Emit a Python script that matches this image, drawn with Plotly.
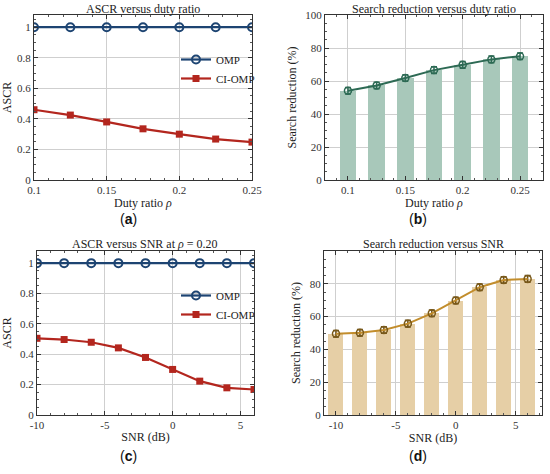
import plotly.graph_objects as go
from plotly.subplots import make_subplots

# data
duty = [0.1, 0.125, 0.15, 0.175, 0.2, 0.225, 0.25]
omp_duty = [1, 1, 1, 1, 1, 1, 1]
ciomp_duty = [0.46, 0.425, 0.38, 0.335, 0.30, 0.268, 0.248]
red_duty = [54.1, 57.3, 61.8, 66.6, 69.8, 73.1, 75.0]
red_duty_err = [2, 2, 2, 2, 2, 2, 2]

snr = [-10, -8, -6, -4, -2, 0, 2, 4, 6]
omp_snr = [1, 1, 1, 1, 1, 1, 1, 1, 1]
ciomp_snr = [0.505, 0.497, 0.479, 0.442, 0.379, 0.30, 0.223, 0.179, 0.168]
red_snr = [49.6, 50.2, 51.8, 55.7, 62.0, 69.8, 77.9, 82.3, 83.0]
red_snr_err = [2, 2, 2, 2, 2, 2, 2, 2, 2]

duty_ticks = [0.1, 0.15, 0.2, 0.25]
duty_labels = ["0.1", "0.15", "0.2", "0.25"]
snr_ticks = [-10, -5, 0, 5]
snr_labels = ["-10", "-5", "0", "5"]
ascr_ticks = [0, 0.2, 0.4, 0.6, 0.8, 1]
ascr_labels = ["0", "0.2", "0.4", "0.6", "0.8", "1"]

W, H = 550, 474
serif = "Liberation Serif, Times New Roman, serif"
blue = "#1d4472"
red = "#b3261e"
green = "#2d6a54"
green_bar = "#a8c8ba"
gold = "#c28d2c"
gold_bar = "#e6cfa6"


def px_x(a, b):
    return [a / W, b / W]


def px_y(top, bottom):
    return [1 - bottom / H, 1 - top / H]


fig = make_subplots(rows=2, cols=2)

# (a)
fig.add_trace(go.Scatter(x=duty, y=omp_duty, mode="lines+markers", name="OMP",
                         line=dict(color=blue, width=2.2),
                         marker=dict(symbol="circle-open", size=8, color=blue, line=dict(width=2)),
                         legend="legend"), row=1, col=1)
fig.add_trace(go.Scatter(x=duty, y=ciomp_duty, mode="lines+markers", name="CI-OMP",
                         line=dict(color=red, width=2.2),
                         marker=dict(symbol="square", size=7, color=red),
                         legend="legend"), row=1, col=1)

# (b)
fig.add_trace(go.Bar(x=duty, y=red_duty, width=0.0145, marker=dict(color=green_bar, line=dict(width=0)),
                     showlegend=False), row=1, col=2)
fig.add_trace(go.Scatter(x=duty, y=red_duty, mode="lines+markers", showlegend=False,
                         line=dict(color=green, width=2),
                         marker=dict(symbol="circle-open", size=7, color=green, line=dict(width=1.5)),
                         error_y=dict(type="data", array=red_duty_err, color=green, thickness=1.5, width=3)),
              row=1, col=2)

# (c)
fig.add_trace(go.Scatter(x=snr, y=omp_snr, mode="lines+markers", name="OMP",
                         line=dict(color=blue, width=2.2),
                         marker=dict(symbol="circle-open", size=8, color=blue, line=dict(width=2)),
                         legend="legend2"), row=2, col=1)
fig.add_trace(go.Scatter(x=snr, y=ciomp_snr, mode="lines+markers", name="CI-OMP",
                         line=dict(color=red, width=2.2),
                         marker=dict(symbol="square", size=7, color=red),
                         legend="legend2"), row=2, col=1)

# (d)
fig.add_trace(go.Bar(x=snr, y=red_snr, width=1.25, marker=dict(color=gold_bar, line=dict(width=0)),
                     showlegend=False), row=2, col=2)
fig.add_trace(go.Scatter(x=snr, y=red_snr, mode="lines+markers", showlegend=False,
                         line=dict(color=gold, width=2),
                         marker=dict(symbol="circle-open", size=7, color="#7a5a1a", line=dict(width=1.5)),
                         error_y=dict(type="data", array=red_snr_err, color="#6b4f18", thickness=1.5, width=3)),
              row=2, col=2)

axis_style = dict(showline=True, linecolor="#333", linewidth=1, mirror="ticks", ticks="inside",
                  ticklen=4, tickcolor="#333", showgrid=True, gridcolor="#cfcfcf", gridwidth=1,
                  zeroline=False, automargin=False, tickfont=dict(family=serif, size=11, color="#333"))
minor = dict(ticks="inside", ticklen=2, tickcolor="#555")
title_font = dict(family=serif, size=12, color="#222")

fig.update_layout(
    xaxis=dict(axis_style, domain=px_x(34, 252), range=[0.1, 0.25], tickvals=duty_ticks,
               ticktext=duty_labels, minor=dict(minor, dtick=0.01),
               title=dict(text="Duty ratio <i>ρ</i>", font=title_font, standoff=2)),
    yaxis=dict(axis_style, domain=px_y(15, 180), range=[0, 1.08], tickvals=ascr_ticks,
               ticktext=ascr_labels, minor=dict(minor, dtick=0.05),
               title=dict(text="ASCR", font=title_font, standoff=6)),
    xaxis2=dict(axis_style, domain=px_x(325, 543), range=[0.08, 0.27], tickvals=duty_ticks,
                ticktext=duty_labels, minor=dict(minor, dtick=0.01),
                title=dict(text="Duty ratio <i>ρ</i>", font=title_font, standoff=2)),
    yaxis2=dict(axis_style, domain=px_y(15, 180), range=[0, 100], tickvals=[0, 20, 40, 60, 80, 100],
                minor=dict(minor, dtick=5),
                title=dict(text="Search reduction (%)", font=title_font, standoff=6)),
    xaxis3=dict(axis_style, domain=px_x(37, 254), range=[-10, 6], tickvals=snr_ticks,
                ticktext=snr_labels, minor=dict(minor, dtick=1),
                title=dict(text="SNR (dB)", font=title_font, standoff=2)),
    yaxis3=dict(axis_style, domain=px_y(251, 415), range=[0, 1.08], tickvals=ascr_ticks,
                ticktext=ascr_labels, minor=dict(minor, dtick=0.05),
                title=dict(text="ASCR", font=title_font, standoff=6)),
    xaxis4=dict(axis_style, domain=px_x(324, 542), range=[-11, 7.2], tickvals=snr_ticks,
                ticktext=snr_labels, minor=dict(minor, dtick=1),
                title=dict(text="SNR (dB)", font=title_font, standoff=2)),
    yaxis4=dict(axis_style, domain=px_y(251, 415), range=[0, 100], tickvals=[0, 20, 40, 60, 80],
                minor=dict(minor, dtick=5),
                title=dict(text="Search reduction (%)", font=title_font, standoff=6)),
    legend=dict(x=176 / W, y=1 - 45 / H, xanchor="left", yanchor="top", bgcolor="rgba(0,0,0,0)",
                font=dict(family=serif, size=11, color="#222"), tracegroupgap=0, itemwidth=30),
    legend2=dict(x=176 / W, y=1 - 281 / H, xanchor="left", yanchor="top", bgcolor="rgba(0,0,0,0)",
                 font=dict(family=serif, size=11, color="#222"), tracegroupgap=0, itemwidth=30),
    width=W, height=H,
    margin=dict(l=0, r=0, t=0, b=0),
    paper_bgcolor="white", plot_bgcolor="white",
    bargap=0,
)

# subplot titles and panel letters
titles = [
    ("ASCR versus duty ratio", 143, 9),
    ("Search reduction versus duty ratio", 434, 9),
    ("ASCR versus SNR at <i>ρ</i> = 0.20", 145, 244),
    ("Search reduction versus SNR", 433, 244),
]
for text, xp, yp in titles:
    fig.add_annotation(text=text, x=xp / W, y=1 - yp / H, xref="paper", yref="paper",
                       showarrow=False, font=dict(family=serif, size=12, color="#222"),
                       xanchor="center", yanchor="middle")

letters = [("(<b>a</b>)", 128, 219), ("(<b>b</b>)", 418, 219),
           ("(<b>c</b>)", 128, 456), ("(<b>d</b>)", 418, 456)]
for text, xp, yp in letters:
    fig.add_annotation(text=text, x=xp / W, y=1 - yp / H, xref="paper", yref="paper",
                       showarrow=False, font=dict(family="Liberation Sans, Arial, sans-serif", size=14, color="#111"),
                       xanchor="center", yanchor="middle")

# drop the default page margin so the figure sits at the window corner
fig.write_html("out.html", config={"displayModeBar": False},
               post_script="document.body.style.margin='0px';")
